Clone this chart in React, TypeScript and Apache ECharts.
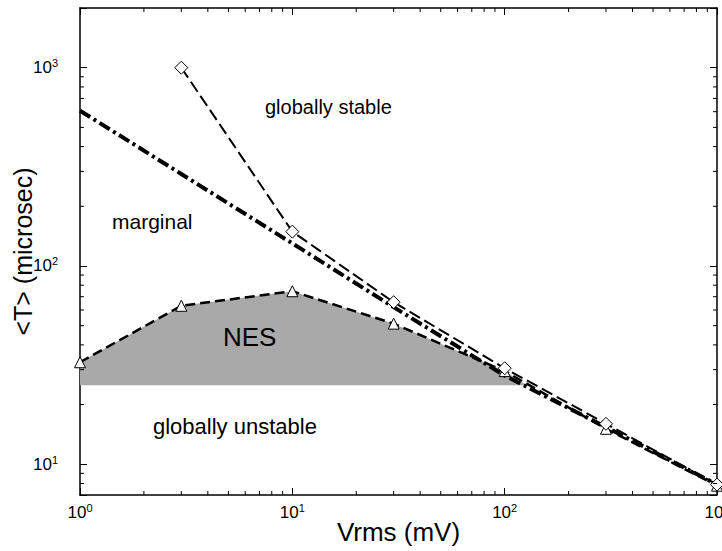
import React, { useEffect, useRef } from 'react';
import * as echarts from 'echarts';

const X_MIN = 1;
const X_MAX = 1000;
const Y_MIN = 7;
const Y_MAX = 2000;

// Vrms (mV), <T> (microsec)
const diamondSeries = [[3, 1000], [10, 149], [30, 65.7], [100, 30.5], [300, 16], [1000, 7.9]];
const triangleSeries = [[1, 32.7], [3, 63], [10, 74.6], [30, 51.2], [100, 29.5], [300, 15.1], [1000, 7.8]];
const dashDotSeries = [[1, 607], [3, 291], [10, 130], [30, 62], [100, 28], [300, 15.4], [1000, 7.9]];
const nesRegion = [[1, 25], [1, 32.7], [3, 63], [10, 74.6], [30, 51.2], [100, 29.5], [127, 25]];

const xMinorTicks = [2, 3, 4, 5, 6, 7, 8, 9, 20, 30, 40, 50, 60, 70, 80, 90, 200, 300, 400, 500, 600, 700, 800, 900];
const yMinorTicks = [8, 9, 20, 30, 40, 50, 60, 70, 80, 90, 200, 300, 400, 500, 600, 700, 800, 900];

const FONT = '"Liberation Sans", Arial, Helvetica, sans-serif';

const fmtPow = (v: number) => {
  const e = Math.round(Math.log10(v));
  if (Math.abs(Math.pow(10, e) - v) > 1e-6 * v) return '';
  return `{a|10}{b|${e}}`;
};

const richLabel = {
  a: { fontSize: 17, lineHeight: 20, fontFamily: FONT, color: '#000' },
  b: { fontSize: 11, lineHeight: 10, fontFamily: FONT, color: '#000', verticalAlign: 'top' },
};

export default function App() {
  const ref = useRef<HTMLDivElement>(null);

  useEffect(() => {
    if (!ref.current) return;
    const chart = echarts.init(ref.current, undefined, { renderer: 'svg' });

    const axisLine = { show: true, onZero: false, lineStyle: { color: '#000', width: 1.5 } };
    const axisTick = { show: true, inside: true, length: 7, lineStyle: { color: '#000', width: 1 } };

    const option: any = {
      animation: false,
      backgroundColor: '#fff',
      grid: { left: 80, right: 5, top: 8, bottom: 56, containLabel: false, outerBoundsMode: 'none' },
      xAxis: [
        {
          type: 'log', logBase: 10, min: X_MIN, max: X_MAX, position: 'bottom',
          name: 'Vrms (mV)', nameLocation: 'middle', nameGap: 37, nameMoveOverlap: false,
          nameTextStyle: { fontSize: 26, lineHeight: 26, fontFamily: FONT, color: '#000', verticalAlign: 'middle' },
          axisLine, axisTick, splitLine: { show: false },
          axisLabel: { margin: 7, formatter: fmtPow, rich: richLabel, hideOverlap: false },
        },
        {
          type: 'log', logBase: 10, min: X_MIN, max: X_MAX, position: 'top',
          axisLine, axisTick, splitLine: { show: false }, axisLabel: { show: false },
        },
      ],
      yAxis: [
        {
          type: 'log', logBase: 10, min: Y_MIN, max: Y_MAX, position: 'left',
          name: '<T> (microsec)', nameLocation: 'middle', nameGap: 57, nameMoveOverlap: false,
          nameTextStyle: { fontSize: 25, lineHeight: 26, fontFamily: FONT, color: '#000', verticalAlign: 'middle' },
          axisLine, axisTick, splitLine: { show: false },
          axisLabel: { margin: 22, formatter: fmtPow, rich: richLabel },
        },
        {
          type: 'log', logBase: 10, min: Y_MIN, max: Y_MAX, position: 'right',
          axisLine, axisTick, splitLine: { show: false }, axisLabel: { show: false },
        },
      ],
      series: [
        {
          type: 'custom', name: 'NES', xAxisIndex: 0, yAxisIndex: 0, silent: true, z: 1,
          data: [nesRegion[0]],
          renderItem: (_p: any, api: any) => ({
            type: 'polygon',
            shape: { points: nesRegion.map((p) => api.coord(p)) },
            style: { fill: '#a9a9a9' },
          }),
        },
        {
          type: 'line', name: 'fit', xAxisIndex: 0, yAxisIndex: 0, z: 2,
          data: dashDotSeries, symbol: 'none',
          lineStyle: { color: '#000', width: 4, type: [12, 4, 3, 4], cap: 'butt' },
        },
        {
          type: 'line', name: 'triangles', xAxisIndex: 0, yAxisIndex: 0, z: 3,
          data: triangleSeries, symbol: 'triangle', symbolSize: 11,
          itemStyle: { color: '#fff', borderColor: '#000', borderWidth: 1 },
          lineStyle: { color: '#000', width: 2.5, type: [10, 5] },
        },
        {
          type: 'line', name: 'diamonds', xAxisIndex: 0, yAxisIndex: 0, z: 4,
          data: diamondSeries, symbol: 'diamond', symbolSize: 13,
          itemStyle: { color: '#fff', borderColor: '#000', borderWidth: 1 },
          lineStyle: { color: '#000', width: 2, type: [12, 5] },
        },
        {
          type: 'custom', name: 'xminor', xAxisIndex: 0, yAxisIndex: 0, silent: true, z: 6,
          data: xMinorTicks.map((v) => [v, Y_MIN]),
          renderItem: (_p: any, api: any) => {
            const v = api.value(0);
            const b = api.coord([v, Y_MIN]);
            const t = api.coord([v, Y_MAX]);
            return {
              type: 'group',
              children: [
                { type: 'line', shape: { x1: b[0], y1: b[1], x2: b[0], y2: b[1] - 4 }, style: { stroke: '#000', lineWidth: 1 } },
                { type: 'line', shape: { x1: t[0], y1: t[1], x2: t[0], y2: t[1] + 4 }, style: { stroke: '#000', lineWidth: 1 } },
              ],
            };
          },
        },
        {
          type: 'custom', name: 'yminor', xAxisIndex: 0, yAxisIndex: 0, silent: true, z: 6,
          data: yMinorTicks.map((v) => [X_MIN, v]),
          renderItem: (_p: any, api: any) => {
            const v = api.value(1);
            const l = api.coord([X_MIN, v]);
            const r = api.coord([X_MAX, v]);
            return {
              type: 'group',
              children: [
                { type: 'line', shape: { x1: l[0], y1: l[1], x2: l[0] + 4, y2: l[1] }, style: { stroke: '#000', lineWidth: 1 } },
                { type: 'line', shape: { x1: r[0], y1: r[1], x2: r[0] - 4, y2: r[1] }, style: { stroke: '#000', lineWidth: 1 } },
              ],
            };
          },
        },
      ],
      graphic: [
        { type: 'text', z: 100, x: 265, y: 107, style: { text: 'globally stable', font: `20px ${FONT}`, fill: '#000', verticalAlign: 'middle', align: 'left' } },
        { type: 'text', z: 100, x: 112, y: 221, style: { text: 'marginal', font: `21px ${FONT}`, fill: '#000', verticalAlign: 'middle', align: 'left' } },
        { type: 'text', z: 100, x: 223, y: 337, style: { text: 'NES', font: `26px ${FONT}`, fill: '#000', verticalAlign: 'middle', align: 'left' } },
        { type: 'text', z: 100, x: 153, y: 426, style: { text: 'globally unstable', font: `22px ${FONT}`, fill: '#000', verticalAlign: 'middle', align: 'left' } },
      ],
    };

    chart.setOption(option);
    return () => chart.dispose();
  }, []);

  return (
    <div
      ref={ref}
      style={{ position: 'fixed', left: 0, top: 0, width: 722, height: 551, background: '#fff' }}
    />
  );
}
